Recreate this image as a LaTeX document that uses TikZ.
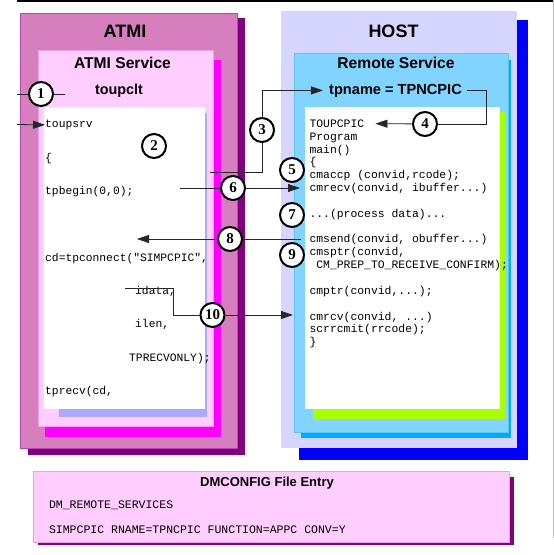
\documentclass[tikz,border=0pt]{standalone}
\usepackage{fontspec}
\setmainfont{Liberation Sans}
\setmonofont{Liberation Mono}
\newfontfamily\numfont{Liberation Serif}
\usetikzlibrary{arrows.meta}
\definecolor{atmipink}{RGB}{214,126,190}
\definecolor{atmiedge}{RGB}{185,70,185}
\definecolor{plum}{RGB}{128,0,128}
\definecolor{blush}{RGB}{255,206,255}
\definecolor{blushedge}{RGB}{235,160,235}
\definecolor{fuchsia}{RGB}{255,0,255}
\definecolor{periwinkle}{RGB}{170,170,255}
\definecolor{lavender}{RGB}{213,213,255}
\definecolor{royal}{RGB}{0,0,255}
\definecolor{sky}{RGB}{128,212,255}
\definecolor{skyedge}{RGB}{90,200,240}
\definecolor{azure}{RGB}{0,170,255}
\definecolor{lime}{RGB}{170,255,0}

\begin{document}
\begin{tikzpicture}[x=1pt, y=-1pt, >={Triangle[length=12pt, width=8pt]}]
  \tikzstyle{title} = [inner sep=0, anchor=base, font=\bfseries\fontsize{18}{18}\selectfont]
  \tikzstyle{subtitle} = [inner sep=0, anchor=base, font=\bfseries\fontsize{15.6}{16}\selectfont]
  \tikzstyle{code} = [inner sep=0, anchor=base west, font=\ttfamily\fontsize{11.3}{12}\selectfont]
  \tikzstyle{badge} = [circle, draw, line width=2pt, fill=white, minimum size=24pt, inner sep=0, font=\numfont\bfseries\fontsize{15}{15}\selectfont]
  \tikzstyle{wire} = [line width=0.8pt, black!85]

  \useasboundingbox (0,0) rectangle (554,555);

  % page edges
  \draw[line width=1.5pt] (17,0.75) -- (554,0.75);
  \draw[gray!50, line width=1pt] (553,0) -- (553,538);

  % ATMI side
  \fill[plum] (28,18) rectangle (245,455);
  \filldraw[fill=atmipink, draw=atmiedge] (20,13) rectangle (237,448);
  \fill[fuchsia] (45,60) rectangle (221,437);
  \filldraw[fill=blush, draw=blushedge] (38,50) rectangle (213,426);
  \fill[periwinkle] (59,113) rectangle (207,417);
  \fill[white] (44,107) rectangle (205,409);

  % HOST side
  \fill[royal] (299,20) rectangle (528,460);
  \fill[lavender] (281,10.5) rectangle (517,448);
  \fill[azure] (301,60) rectangle (511,438);
  \filldraw[fill=sky, draw=skyedge] (294,53) rectangle (508,432);
  \fill[lime] (313,112) rectangle (506,419);
  \fill[white] (305,107) rectangle (500,409);

  % DMCONFIG entry
  \fill[plum] (38,477) rectangle (514,545);
  \filldraw[fill=blush, draw=blushedge] (33.5,471) rectangle (509,542.5);

  % titles
  \node[title] (atmi) at (125,37) {ATMI};
  \node[subtitle] (atmisvc) at (122.5,68.5) {ATMI Service};
  \node[subtitle, font=\bfseries\fontsize{14.4}{15}\selectfont] (toupclt) at (119,94.5) {toupclt};
  \node[title] (host) at (393.5,37) {HOST};
  \node[subtitle] (remsvc) at (396,68.5) {Remote Service};
  \node[subtitle, font=\bfseries\fontsize{14.6}{15}\selectfont] (tpname) at (395.5,94) {tpname = TPNCPIC};
  \node[subtitle, font=\bfseries\fontsize{13}{14}\selectfont] (dmcfg) at (267,486.4) {DMCONFIG File Entry};

  % client code
  \foreach \x/\y/\t [count=\i] in {45/127.5/toupsrv, 45/161/\{, 45/194.5/{tpbegin(0,0);},
      45/261.5/{cd=tpconnect("SIMPCPIC",}, 135/294/{idata,}, 135/327.5/{ilen,},
      129/361/{TPRECVONLY);}, 45/394.5/{tprecv(cd,}}
    \node[code] (lc\i) at (\x,\y) {\t};

  % server code
  \foreach \n/\t in {0/TOUPCPIC, 1/Program, 2/main(), 3/\{, 4/{cmaccp (convid,rcode);},
      5/{cmrecv(convid, ibuffer...)}, 7/{...(process data)...}, 9/{cmsend(convid, obuffer...)},
      10/{cmsptr(convid,}, 11/{\ CM\_PREP\_TO\_RECEIVE\_CONFIRM);}, 13/{cmptr(convid,...);},
      15/{cmrcv(convid, ...)}, 16/{scrrcmit(rrcode);}, 17/\}}
    \node[code, font=\ttfamily\fontsize{11.4}{12}\selectfont] (rc\n) at (309.3,127.3+12.85*\n) {\t};

  % config lines
  \node[code, font=\ttfamily\fontsize{11.5}{12}\selectfont] (dm1) at (48.8,508.7) {DM\_REMOTE\_SERVICES};
  \node[code, font=\ttfamily\fontsize{11.5}{12}\selectfont] (dm2) at (48.8,533.4) {SIMPCPIC RNAME=TPNCPIC FUNCTION=APPC CONV=Y};

  % step markers
  \node[badge] (c1) at (41,94) {1};
  \node[badge] (c2) at (154,146) {2};
  \node[badge] (c3) at (262,130) {3};
  \node[badge] (c4) at (425,124) {4};
  \node[badge] (c5) at (292,170) {5};
  \node[badge] (c6) at (233,188) {6};
  \node[badge] (c7) at (292,215) {7};
  \node[badge] (c8) at (230,239) {8};
  \node[badge] (c9) at (292,255) {9};
  \node[badge] (c10) at (212.5,315) {10};

  \coordinate (s1) at (17,94);
  \coordinate (e1) at (65,94);
  \coordinate (s2) at (17,124.5);
  \coordinate (s3) at (210,172);
  \coordinate (k4) at (486,124);
  \coordinate (s6) at (180,188);
  \coordinate (t6) at (300,188);
  \coordinate (s8) at (301,239);
  \coordinate (t8) at (137,239);
  \coordinate (s10) at (125,288);
  \coordinate (k10) at (173,315);
  \coordinate (t10) at (293,315);

  % connectors
  \draw[wire] (s1) -- (c1) -- (e1);
  \draw[wire, ->] (s2) -- (lc1.west);
  \draw[wire] (s3) -| (c3);
  \draw[wire, ->, shorten >=6pt] (c3) |- (tpname.west);
  \draw[wire, shorten <=5pt] (tpname.east) -| (k4) -- (c4);
  \draw[wire, ->, shorten >=11pt] (c4) -- (rc0.east);
  \draw[wire] (s6) -- (c6);
  \draw[wire, ->] (c6) -- (t6);
  \draw[wire] (s8) -- (c8);
  \draw[wire, ->] (c8) -- (t8);
  \draw[wire] (s10) -| (k10) -- (c10);
  \draw[wire, ->] (c10) -- (t10);
\end{tikzpicture}
\end{document}
